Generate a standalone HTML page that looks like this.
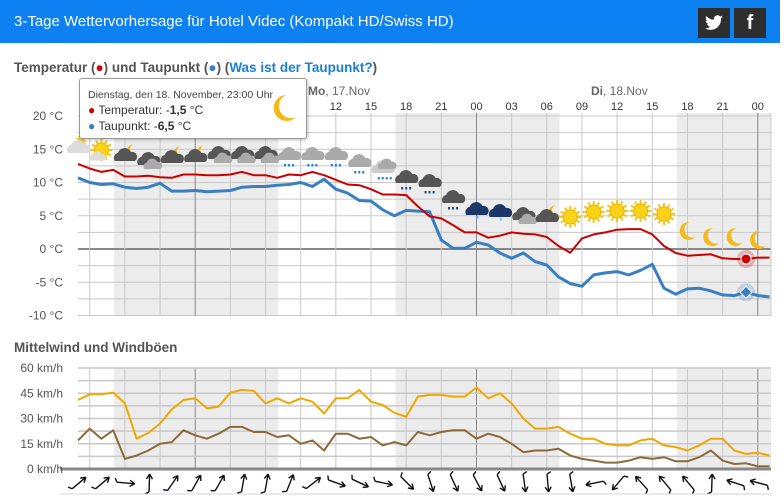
<!DOCTYPE html>
<html><head><meta charset="utf-8">
<style>
html,body{margin:0;padding:0;background:#fff;width:784px;height:503px;overflow:hidden;font-family:"Liberation Sans",sans-serif}
#hdr{position:absolute;left:0;top:0;width:780px;height:43px;background:#0d80f2}
#ttl{position:absolute;left:14px;top:13px;color:#fff;font-size:15px}
.soc{position:absolute;top:8px;width:32px;height:30px;background:#2e2e2e;color:#fff;font-weight:bold;text-align:center;line-height:30px;font-size:20px}
.sec{position:absolute;left:14px;font-weight:bold;font-size:13.5px;color:#555}
.sec a{color:#1a7fd6;text-decoration:none}
#tip{position:absolute;left:79px;top:78px;width:226px;height:59px;background:#fff;border:1px solid #999;border-radius:3px;box-shadow:1px 1px 3px rgba(0,0,0,.25);font-size:12px;color:#333}
</style></head><body>
<div id="hdr">
<div id="ttl">3-Tage Wettervorhersage für Hotel Videc (Kompakt HD/Swiss HD)</div>
<div class="soc" style="left:698px"><svg width="20" height="18" viewBox="0 0 20 18" style="margin-top:6px"><path d="M19 3c-.7.3-1.4.5-2.1.6.8-.5 1.3-1.2 1.6-2-.7.4-1.5.7-2.3.9A3.7 3.7 0 0 0 9.9 5.8 10.4 10.4 0 0 1 2.3 2a3.7 3.7 0 0 0 1.1 4.9c-.6 0-1.2-.2-1.7-.5 0 1.8 1.3 3.3 3 3.6-.5.2-1.1.2-1.7.1.5 1.5 1.8 2.5 3.4 2.6A7.4 7.4 0 0 1 1 14.2 10.4 10.4 0 0 0 17 5v-.5c.8-.5 1.4-1.1 2-1.5z" fill="#fff"/></svg></div>
<div class="soc" style="left:734px;font-family:'Liberation Sans',sans-serif">f</div>
</div>
<div class="sec" style="top:60px">Temperatur (<span style="color:#c00">●</span>) und Taupunkt (<span style="color:#3a7fc1">●</span>) (<a href="#">Was ist der Taupunkt?</a>)</div>
<div class="sec" style="top:340px">Mittelwind und Windböen</div>
<svg id="chart" width="784" height="503" style="position:absolute;left:0;top:0" xmlns="http://www.w3.org/2000/svg" font-family="Liberation Sans, sans-serif"></svg>
<div id="tip">
<div style="position:absolute;left:8px;top:10px;font-size:10.5px;color:#444">Dienstag, den 18. November, 23:00 Uhr</div>
<div style="position:absolute;left:8px;top:24px"><span style="color:#c00">●</span> Temperatur: -<b>1,5</b> °C</div>
<div style="position:absolute;left:8px;top:40px"><span style="color:#3a7fc1">●</span> Taupunkt: -<b>6,5</b> °C</div>
<svg style="position:absolute;left:192px;top:14px" width="26" height="30"><path d="M14 2 A13 13 0 1 0 24 24 A11 11 0 0 1 14 2Z" fill="#f5b91c"/></svg>
</div>
<script>
const hours=["12","15","18","21","00","03","06","09","12","15","18","21","00"];
const hourIdx=[22,25,28,31,34,37,40,43,46,49,52,55,58];
const dayLabels=["Mo, 17.Nov","Di, 18.Nov"];
const tempTicks=[20,15,10,5,0,-5,-10];
const windTicks=[60,45,30,15,0];
const temperature=[12.8,12.1,11.6,11.9,10.9,10.9,11.0,10.8,10.7,11.2,11.2,11.1,11.1,11.2,11.6,11.1,11.1,10.7,11.2,11.1,11.6,11.1,10.4,9.7,9.6,9.0,8.2,8.2,8.1,6.4,4.9,4.6,3.6,2.5,2.5,1.7,2.0,2.5,2.3,2.2,1.8,0.45,-0.55,1.6,2.2,2.5,2.9,3.0,3.0,2.2,0.45,-0.6,-1.0,-0.9,-0.8,-1.4,-1.5,-1.5,-1.3,-1.3];
const dewpoint=[10.7,10.0,9.7,9.8,9.3,9.1,9.3,9.9,8.7,8.7,8.8,8.6,8.7,8.8,9.3,9.4,9.4,9.6,9.7,10.0,9.4,10.5,9.0,8.4,7.3,7.2,5.9,5.0,5.8,5.7,5.6,1.35,0.1,0.1,1.0,0.6,-0.6,-1.4,-0.6,-1.9,-2.4,-4.2,-5.2,-5.6,-3.9,-3.6,-3.4,-3.9,-3.2,-2.3,-5.9,-6.8,-6.0,-5.9,-6.3,-6.9,-7.0,-6.5,-7.0,-7.2];
const gusts=[41,44.4,44.4,45.4,39,18,21.4,27,35.4,41,42,36,37,45.4,47,46.4,39,42,39,42,40,33,42,42,47,40,38,33.4,31,43,44,44,43,43,48.4,42,45,39,30,24,24,25,21,18,18,15,14,14,17,18,14,13,11,14,18,18,11,9,9.6,8];
const meanWind=[17,24,18,23,6,8,11,15,16,23,20,18,21,25,25,22,22,19,20,15,17,11,21,21,18,19,14,16,14,22,20,22,23,23,18,21,19,15,10,11,11,12,8,6,5,3.8,3.8,5,7,6,7,4.6,4.6,7,11,5,3,3.4,1.6,1.6];
const windDir=[-40,-40,5,-88,-55,-60,-60,-80,-80,-68,-38,20,25,12,45,72,65,62,65,82,85,80,168,130,-132,-130,-130,-88,198,195];
const iconTypes=["cs","sc","dm","dd","dm","dm","dd","dd","dd","lr","lr","lr","lr","lr2","dr","dr","dr","ns","ns","dd","dm","s","s","s","s","s","m","m","m","m"];
const iconY=[148,150,156,160,158,157,154,154,154,155,155,155,162,168,178,182,198,210,212,215,217,217,212,211,211,214,231,237,237,240];
const nightStarts=[3,27,51];
const nightEnds=[17,41,60];
const selIdx=57;

const svg=document.getElementById('chart');
const NS="http://www.w3.org/2000/svg";
const X0=78,DX=11.72,XR=771;
const xS=j=>X0+DX*j;
const yT=t=>249-6.65*t;
const yW=v=>469-1.683*v;
function mk(tag,at,parent){const e=document.createElementNS(NS,tag);for(const k in at)e.setAttribute(k,at[k]);(parent||svg).appendChild(e);return e;}

for(let n=0;n<nightStarts.length;n++){
  const a=Math.max(X0,xS(nightStarts[n])+1),b=Math.min(XR,xS(nightEnds[n])+1);
  const r1=mk('rect',{x:a,y:113,width:b-a,height:203,fill:'#ececec'});
  
  
  const r2=mk('rect',{x:a,y:368,width:b-a,height:101,fill:'#ececec'});
  
  
}
for(let t=20;t>=-10;t-=2.5){
  const l=mk('line',{x1:X0,x2:XR,y1:yT(t),y2:yT(t),stroke:t===0?'#888':'#c8c8c8','stroke-width':t===0?2:1});
  
  
}
for(let j=1;j<60;j+=3){
  const mid=(j%24)===10;
  const l=mk('line',{x1:xS(j),x2:xS(j),y1:113,y2:316,stroke:mid?'#888':'#c8c8c8','stroke-width':1});
  
  
  const l2=mk('line',{x1:xS(j),x2:xS(j),y1:368,y2:469,stroke:mid?'#888':'#c8c8c8','stroke-width':1});
  
  
}
mk('line',{x1:XR,x2:XR,y1:113,y2:316,stroke:'#ccc'});
tempTicks.forEach(t=>{
  const e=mk('text',{x:63,y:yT(t)+4,'text-anchor':'end','font-size':12,fill:'#555'});e.textContent=t+' °C';
  
  
});
hours.forEach((h,i)=>{
  const e=mk('text',{x:xS(hourIdx[i]),y:110,'text-anchor':'middle','font-size':11,fill:'#333'});e.textContent=h;
  
  
});
[[308,dayLabels[0]],[591,dayLabels[1]]].forEach(([x,s])=>{
  const p=s.split(',');
  const e=mk('text',{x:x,y:95,'font-size':12,fill:'#666'});
  e.innerHTML='<tspan font-weight="bold">'+p[0]+'</tspan>,'+p[1];
  
  
});
for(let v=0;v<=60;v+=7.5){
  const l=mk('line',{x1:v===0?60:X0,x2:XR,y1:yW(v),y2:yW(v),stroke:v===0?'#888':'#c8c8c8','stroke-width':v===0?3:1.5});
  
  
}
windTicks.forEach(v=>{
  const e=mk('text',{x:63,y:yW(v)+4,'text-anchor':'end','font-size':12,fill:'#555'});e.textContent=v+' km/h';
  
  
});
function line(arr,ys,col,w,name){
  const d=arr.map((v,j)=>(j?'L':'M')+xS(j).toFixed(1)+' '+ys(v).toFixed(1)).join(' ');
  const p=mk('path',{d:d,fill:'none',stroke:col,'stroke-width':w,'stroke-linejoin':'round'});
  
  
}
line(dewpoint,yT,'#3a7fc1',3,'dewpoint-line');
line(temperature,yT,'#cc0000',2,'temperature-line');
line(gusts,yW,'#f0a800',2,'gust-line');
line(meanWind,yW,'#8c6a3a',2,'mean-wind-line');
const sx=xS(selIdx);
mk('circle',{cx:sx,cy:yT(temperature[selIdx]),r:9,fill:'rgba(204,0,0,0.25)'});
const m1=mk('circle',{cx:sx,cy:yT(temperature[selIdx]),r:5,fill:'#cc0000',stroke:'#fff','stroke-width':1});


mk('circle',{cx:sx,cy:yT(dewpoint[selIdx]),r:9,fill:'rgba(58,127,193,0.25)'});
const m2=mk('path',{d:`M${sx} ${yT(dewpoint[selIdx])-6}l6 6l-6 6l-6 -6z`,fill:'#3a7fc1',stroke:'#fff','stroke-width':1});


windDir.forEach((a,k)=>{
  const cx=xS(2*k)+1,cy=483;
  const g=mk('g',{transform:`translate(${cx},${cy}) rotate(${a})`});
  
  
  mk('path',{d:'M-9 0 L9 0 M9 0 L4 -3 M9 0 L4 3 M-9 0 L-11 -4',stroke:'#111','stroke-width':1.4,fill:'none'},g);
});
mk('line',{x1:60,x2:XR,y1:494,y2:494,stroke:'#d0d8e0'});
function cloud(g,c,s){mk('path',{d:'M-10 5 A5 5 0 0 1 -7 -3 A7 7 0 0 1 6 -4 A5 5 0 0 1 10 5 Z',fill:c,transform:`scale(${s})`},g);}
function sun(g,s){const gg=mk('g',{transform:`scale(${s})`},g);for(let i=0;i<12;i++)mk('line',{x1:0,y1:0,x2:11*Math.cos(i*Math.PI/6),y2:11*Math.sin(i*Math.PI/6),stroke:'#f5c518','stroke-width':2},gg);mk('circle',{r:7,fill:'#f9d21a',stroke:'#f0b400'},gg);}
function moon(g,s,dx,dy){mk('path',{d:'M2 -9 A9 9 0 1 0 8 6 A7.5 7.5 0 0 1 2 -9Z',fill:'#f5b91c',transform:`translate(${dx},${dy}) scale(${s})`},g);}
function rain(g,c,n){for(let i=0;i<n;i++)mk('rect',{x:-5+i*4,y:9,width:2,height:2.5,fill:c},g);}
iconTypes.forEach((t,k)=>{
  const g=mk('g',{transform:`translate(${xS(2*k)},${iconY[k]})`});
  
  
  if(t==='cs'){const s=mk('g',{transform:'translate(3,-7)'},g);sun(s,0.5);cloud(g,'#dcdcdc',1);}
  else if(t==='sc'){sun(g,1);const c=mk('g',{transform:'translate(-4,7)'},g);cloud(c,'#dcdcdc',0.7);}
  else if(t==='dm'){moon(g,0.6,7,-6);cloud(g,'#555',1);}
  else if(t==='dd'){cloud(g,'#555',1);const c=mk('g',{transform:'translate(4,5)'},g);cloud(c,'#aaa',0.8);}
  else if(t==='lr'){cloud(g,'#aaa',1);rain(g,'#1e7fe0',3);}
  else if(t==='lr2'){cloud(g,'#ccc',1);const c=mk('g',{transform:'translate(4,-3)'},g);cloud(c,'#aaa',0.8);rain(g,'#1e7fe0',4);}
  else if(t==='dr'){cloud(g,'#555',1);rain(g,'#1e4f90',3);}
  else if(t==='ns'){cloud(g,'#1b3768',1);mk('text',{x:1,y:12,'font-size':9,fill:'#4aa8ff','text-anchor':'middle'},g).textContent='*';}
  else if(t==='s'){sun(g,1);}
  else if(t==='m'){moon(g,1,0,0);}
});
</script>
</body></html>
